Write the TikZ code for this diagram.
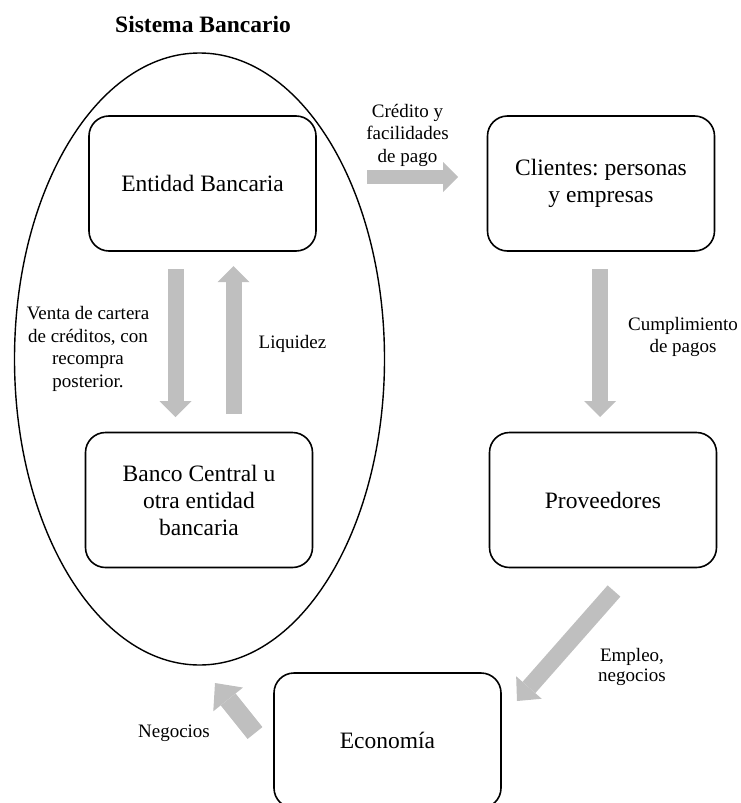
\documentclass[tikz,border=0pt]{standalone}
\usepackage{fontspec}
\setmainfont{Liberation Serif}
\usetikzlibrary{arrows.meta,shapes.geometric}
\definecolor{agray}{RGB}{191,191,191}
\frenchspacing
\tikzset{
  boxnode/.style={draw, line width=1.6pt, rounded corners=20pt, minimum width=227pt,
    minimum height=135pt, align=center, inner sep=0pt,
    font=\fontsize{23.5}{27}\selectfont},
  lbl/.style={align=center, inner sep=0pt, font=\fontsize{19}{22.5}\selectfont},
  barrow/.style n args={3}{draw=agray, line width=#1,
    -{Triangle[width=#2, length=#3, line width=0pt]}},
}
\begin{document}
\begin{tikzpicture}[x=1pt,y=-1pt]
\useasboundingbox (0,0) rectangle (740,803);

% title and grouping ellipse
\node[anchor=base, inner sep=0pt, font=\fontsize{23.5}{27}\selectfont\bfseries] (title) at (203,32) {Sistema Bancario};
\node[ellipse, draw, line width=1.4pt, minimum width=370pt, minimum height=612pt, inner sep=0pt] (sys) at (199.5,359) {};

% boxes
\node[boxnode] (ent) at (202.5,183.5) {Entidad Bancaria};
\node[boxnode] (bc) at (199,500) {Banco Central u\\otra entidad\\bancaria};
\node[boxnode] (cli) at (601,183.5) {Clientes: personas\\y empresas};
\node[boxnode] (prov) at (603,500) {Proveedores};
\node[boxnode] (eco) at (387.5,740.5) {Econom\'ia};

% arrow end points
\coordinate (c1) at (367,177);   \coordinate (c2) at (458,177);
\coordinate (v1) at (175.5,269); \coordinate (v2) at (175.5,417);
\coordinate (l1) at (233.5,414); \coordinate (l2) at (233.5,266);
\coordinate (p1) at (600,269);   \coordinate (p2) at (600,417);
\coordinate (e1) at (614,591);   \coordinate (e2) at (517,701);
\coordinate (n1) at (255,733);   \coordinate (n2) at (215,683);

% block arrows
\draw[barrow={14pt}{30pt}{15pt}] (c1) -- (c2);
\draw[barrow={16pt}{32pt}{16pt}] (v1) -- (v2);
\draw[barrow={16pt}{32pt}{16pt}] (l1) -- (l2);
\draw[barrow={16pt}{32pt}{16pt}] (p1) -- (p2);
\draw[barrow={17pt}{34pt}{18pt}] (e1) -- (e2);
\draw[barrow={19pt}{38pt}{21pt}] (n1) -- (n2);

% labels
\node[lbl] (lc) at (407.5,135) {Cr\'edito y\\facilidades\\de pago};
\node[lbl] (lv) at (88,349) {Venta de cartera\\de cr\'editos, con\\recompra\\posterior.};
\node[lbl, anchor=base] (ll) at (292.5,348) {Liquidez};
\node[lbl] (lp) at (683,337) {Cumplimiento\\de pagos};
\node[lbl, font=\fontsize{19}{20}\selectfont] (le) at (632,667) {Empleo,\\negocios};
\node[lbl, anchor=base] (ln) at (174,737) {Negocios};
\end{tikzpicture}
\end{document}
